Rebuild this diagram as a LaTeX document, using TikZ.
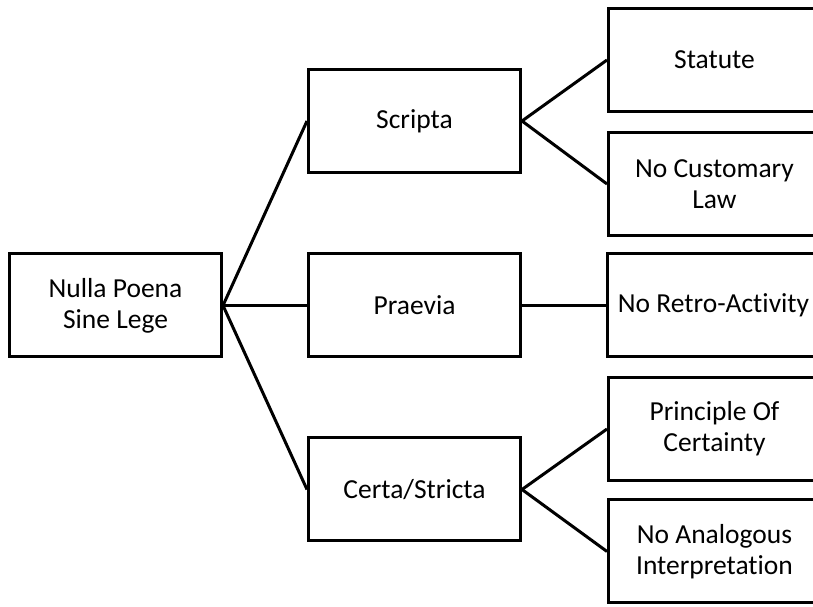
\documentclass[tikz,border=0pt]{standalone}
\usepackage{fontspec}
\setmainfont[Ligatures=NoCommon]{Carlito}
\begin{document}
\begin{tikzpicture}[x=1pt,y=1pt,
  box/.style={draw=black, line width=3pt, fill=white, minimum width=212pt, minimum height=103pt,
    inner sep=0pt, align=center, font=\fontsize{27.5}{31}\selectfont, text=black},
  link/.style={draw=black, line width=3pt}]
\useasboundingbox (0,0) rectangle (813,607);
\clip (0,0) rectangle (813,607);
\fill[white] (0,0) rectangle (813,607);
\node[box] (root) at (115.5,301.5) {Nulla Poena\\Sine Lege};
\node[box] (scripta) at (414.5,486) {Scripta};
\node[box] (praevia) at (414.5,301.5) {Praevia};
\node[box] (certa) at (414.5,117.5) {Certa/Stricta};
\node[box] (statute) at (714.5,547) {Statute};
\node[box] (nocust) at (714.5,423) {No Customary\\Law};
\node[box] (noretro) at (713.5,301.5) {No Retro-Activity};
\node[box] (princ) at (714.5,178) {Principle Of\\Certainty};
\node[box] (noanal) at (714.5,55.5) {No Analogous\\Interpretation};
\draw[link] (root.east) -- (scripta.west);
\draw[link] (root.east) -- (praevia.west);
\draw[link] (root.east) -- (certa.west);
\draw[link] (scripta.east) -- (statute.west);
\draw[link] (scripta.east) -- (nocust.west);
\draw[link] (praevia.east) -- (noretro.west);
\draw[link] (certa.east) -- (princ.west);
\draw[link] (certa.east) -- (noanal.west);
\end{tikzpicture}
\end{document}
